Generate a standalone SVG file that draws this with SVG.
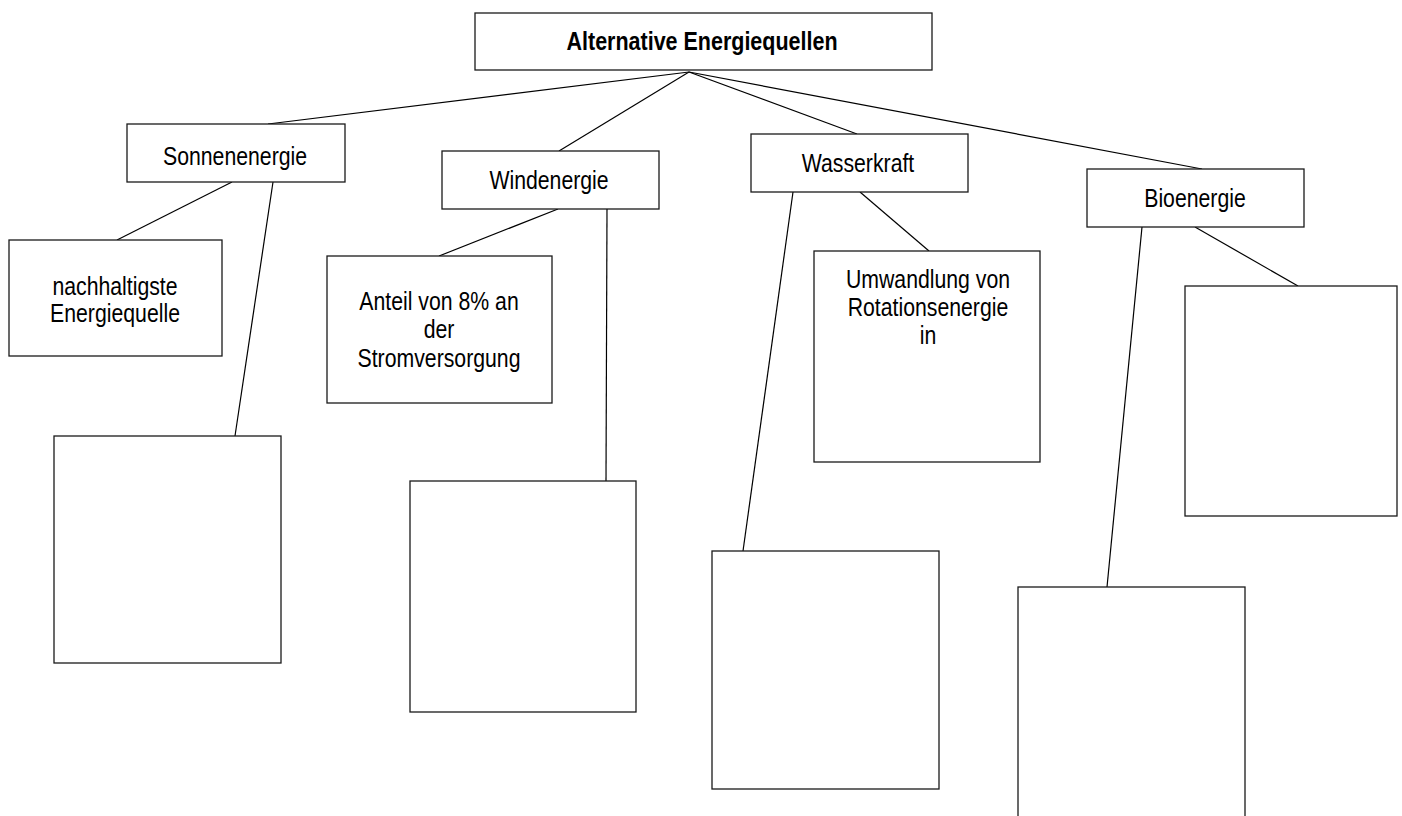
<svg xmlns="http://www.w3.org/2000/svg" width="1402" height="816" viewBox="0 0 1402 816">
<style>
.box{fill:#fff;stroke:#1a1a1a;stroke-width:1.3}
.t{font-family:"Liberation Sans",Arial,sans-serif;font-size:25px;fill:#000;text-anchor:middle}
.b{font-weight:bold}
#connectors line{stroke:#000;stroke-width:1.2}
</style>
<rect width="1402" height="816" fill="#fff"/>
<g id="connectors">
<line x1="689" y1="72" x2="268" y2="124"/>
<line x1="689" y1="72" x2="559" y2="151"/>
<line x1="689" y1="72" x2="857" y2="134"/>
<line x1="689" y1="72" x2="1202" y2="169"/>
<line x1="232" y1="182" x2="117" y2="240"/>
<line x1="273" y1="182" x2="235" y2="436"/>
<line x1="558" y1="209" x2="439" y2="256"/>
<line x1="607" y1="209" x2="606" y2="481"/>
<line x1="860" y1="192" x2="929" y2="251"/>
<line x1="793" y1="192" x2="743" y2="551"/>
<line x1="1195" y1="227" x2="1298" y2="286"/>
<line x1="1142" y1="227" x2="1107" y2="587"/>
</g>
<g id="root"><rect class="box" x="475" y="13" width="457" height="57"/><text class="t b" transform="translate(702,50) scale(0.86,1)">Alternative Energiequellen</text></g>
<g id="sonne"><rect class="box" x="127" y="124" width="218" height="58"/><text class="t" transform="translate(235,165) scale(0.85,1)">Sonnenenergie</text></g>
<g id="wind"><rect class="box" x="442" y="151" width="217" height="58"/><text class="t" transform="translate(549,189) scale(0.85,1)">Windenergie</text></g>
<g id="wasser"><rect class="box" x="751" y="134" width="217" height="58"/><text class="t" transform="translate(858,172) scale(0.85,1)">Wasserkraft</text></g>
<g id="bio"><rect class="box" x="1087" y="169" width="217" height="58"/><text class="t" transform="translate(1195,207) scale(0.85,1)">Bioenergie</text></g>
<g id="sonne-a"><rect class="box" x="9" y="240" width="213" height="116"/><text class="t" transform="translate(115,295) scale(0.85,1)">nachhaltigste</text><text class="t" transform="translate(115,322) scale(0.85,1)">Energiequelle</text></g>
<g id="sonne-b"><rect class="box" x="54" y="436" width="227" height="227"/></g>
<g id="wind-a"><rect class="box" x="327" y="256" width="225" height="147"/><text class="t" transform="translate(439,310) scale(0.85,1)">Anteil von 8% an</text><text class="t" transform="translate(439,338) scale(0.85,1)">der</text><text class="t" transform="translate(439,367) scale(0.85,1)">Stromversorgung</text></g>
<g id="wind-b"><rect class="box" x="410" y="481" width="226" height="231"/></g>
<g id="wasser-a"><rect class="box" x="814" y="251" width="226" height="211"/><text class="t" transform="translate(928,288) scale(0.85,1)">Umwandlung von</text><text class="t" transform="translate(928,316) scale(0.85,1)">Rotationsenergie</text><text class="t" transform="translate(928,344) scale(0.85,1)">in</text></g>
<g id="wasser-b"><rect class="box" x="712" y="551" width="227" height="238"/></g>
<g id="bio-a"><rect class="box" x="1185" y="286" width="212" height="230"/></g>
<g id="bio-b"><rect class="box" x="1018" y="587" width="227" height="240"/></g>
</svg>
